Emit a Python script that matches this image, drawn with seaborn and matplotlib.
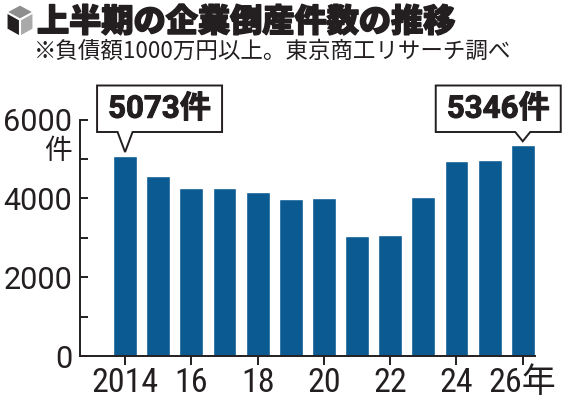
import os
import matplotlib
matplotlib.use("Agg")
import matplotlib.pyplot as plt
import matplotlib.patheffects as pe
import numpy as np
import pandas as pd
import seaborn as sns
from matplotlib.patches import Polygon
from matplotlib.transforms import IdentityTransform
from matplotlib import font_manager as fm

# ---------------- data ----------------
years = [2014, 2015, 2016, 2017, 2018, 2019, 2020, 2021, 2022, 2023, 2024, 2025, 2026]
counts = [5073, 4555, 4274, 4258, 4148, 3980, 3996, 3050, 3067, 4046, 4935, 4977, 5346]
tick_years = [2014, 2016, 2018, 2020, 2022, 2024, 2026]
tick_labels = ["2014", "16", "18", "20", "22", "24", "26年"]
y_ticks = [0, 2000, 4000, 6000]
y_minor_ticks = [1000, 3000, 5000]
highlight_years = [2014, 2026]
title = "上半期の企業倒産件数の推移"
subtitle = "※負債額1000万円以上。東京商工リサーチ調べ"
unit_label = "件"
callout_suffix = "件"

# ---------------- style ----------------
BAR = "#0b5a91"
INK = "#231f20"
W, H = 562, 400


def has_font(name):
    try:
        fm.findfont(fm.FontProperties(family=name), fallback_to_default=False)
        return True
    except Exception:
        return False


def pick_narrow():
    best = None
    for f in fm.fontManager.ttflist:
        fn = os.path.basename(f.fname).lower()
        if f.style != "normal":
            continue
        w = f.weight
        if isinstance(w, str):
            w = 400 if w in ("normal", "regular", "book") else 0
        if w != 400:
            continue
        rank = None
        if "liberationsansnarrow" in fn:
            rank = 0
        elif fn.startswith("notosans-condensed"):
            rank = 1
        elif "robotocondensed" in fn:
            rank = 2
        elif "opensans" in fn and "condensed" in fn and "semi" not in fn:
            rank = 3
        elif fn.startswith("notosans-semicondensed"):
            rank = 4
        elif "dejavusanscondensed" in fn:
            rank = 5
        if rank is not None and (best is None or rank < best[0]):
            best = (rank, f.name, f.stretch)
    if best is None:
        return ("Roboto" if has_font("Roboto") else "DejaVu Sans"), "normal"
    return best[1], best[2]


CJK = "Noto Sans CJK JP"
NARROW, NARROW_STRETCH = pick_narrow()
REG = "Roboto" if has_font("Roboto") else "DejaVu Sans"

sns.set_theme(style="ticks")
plt.rcParams["font.family"] = [REG, CJK, "DejaVu Sans"]

fig = plt.figure(figsize=(W / 100, H / 100), dpi=100)
fig.patch.set_facecolor("white")
renderer = fig.canvas.get_renderer()


def fit_size(s, target_w, max_pt, **kw):
    t = fig.text(0, 0, s, fontsize=10, **kw)
    w = t.get_window_extent(renderer).width
    t.remove()
    return min(max_pt, 10 * target_w / w)


ax = fig.add_axes([80 / W, 1 - 356 / H, (535 - 80) / W, (356 - 119.5) / H])
ax.set_facecolor("white")

df = pd.DataFrame({"year": years, "count": counts})
sns.barplot(data=df, x="year", y="count", native_scale=True, width=0.72,
            color=BAR, saturation=1, errorbar=None, ax=ax, zorder=2)

ax.set_xlim(2012.64, 2026.37)
ax.set_ylim(0, 6000)
ax.set_xlabel("")
ax.set_ylabel("")

ax.set_xticks(tick_years)
ax.set_xticklabels(tick_labels)
ax.set_yticks(y_ticks)
ax.set_yticklabels([str(v) for v in y_ticks])
ax.set_yticks(y_minor_ticks, minor=True)

x_size = fit_size(tick_labels[0], 68, 24.5, family=[NARROW, CJK], stretch=NARROW_STRETCH)
ax.tick_params(axis="x", which="major", direction="out", length=6.5, width=1.4,
               pad=1.5, labelsize=x_size, colors=INK)
ax.tick_params(axis="y", which="both", direction="in", length=6, width=1.4,
               pad=5.5, labelsize=22, colors=INK)
for lab in ax.get_xticklabels():
    lab.set_family([NARROW, CJK])
    lab.set_stretch(NARROW_STRETCH)
for lab in ax.get_yticklabels():
    lab.set_family([REG, CJK])

for s in ["top", "right"]:
    ax.spines[s].set_visible(False)
for s in ["left", "bottom"]:
    ax.spines[s].set_linewidth(1.4)
    ax.spines[s].set_color(INK)

# unit label under 6000
fig.text(72 / W, 1 - 151.5 / H, unit_label, ha="right", va="center",
         fontsize=20, color=INK, family=[CJK])

# ---------------- callouts ----------------
box_left_offset = {2014: -28, 2026: -87}
box_w, box_top, box_bottom = 125, H - 85.5, H - 132
for yr in highlight_years:
    val = counts[years.index(yr)]
    tx, ty = ax.transData.transform((yr, val))
    ty += 4
    bl = tx + box_left_offset[yr]
    br = bl + box_w
    verts = [(tx, ty), (tx - 7.5, box_bottom), (bl, box_bottom), (bl, box_top),
             (br, box_top), (br, box_bottom), (tx + 7.5, box_bottom)]
    poly = Polygon(verts, closed=True, facecolor="white", edgecolor=INK,
                   linewidth=1.4, joinstyle="miter", transform=IdentityTransform(),
                   zorder=5)
    fig.add_artist(poly)
    fig.text((bl + br) / 2, (box_top + box_bottom) / 2, f"{val}{callout_suffix}",
             transform=IdentityTransform(), ha="center", va="center",
             fontsize=22.5, fontweight="bold", color=INK, family=[REG, CJK], zorder=6,
             path_effects=[pe.withStroke(linewidth=0.7, foreground=INK)])

# ---------------- header ----------------
def px(x, y):
    return (x / W, 1 - y / H)

top_face = [px(20, 5), px(33, 12), px(20, 19), px(7, 12)]
left_face = [px(7, 13), px(19.5, 20), px(19.5, 36), px(7, 29)]
right_face = [px(20.5, 20), px(33, 13), px(33, 29), px(20.5, 36)]
for verts, col in [(top_face, "#8e8e8e"), (left_face, INK), (right_face, "#a9a9a9")]:
    fig.add_artist(Polygon(verts, closed=True, facecolor=col, edgecolor="white",
                           linewidth=0.8, transform=fig.transFigure))

title_size = fit_size(title, 418, 25, family=[CJK], fontweight="black")
fig.text(37 / W, 1 - 22 / H, title, ha="left", va="center", fontsize=title_size,
         fontweight="black", color=INK, family=[CJK],
         path_effects=[pe.withStroke(linewidth=1.1, foreground=INK)])
sub_size = fit_size(subtitle, 478, 17, family=[CJK, "DejaVu Sans"])
fig.text(34 / W, 1 - 51 / H, subtitle, ha="left", va="center", fontsize=sub_size,
         color=INK, family=[CJK, "DejaVu Sans"])

fig.savefig("out.png", dpi=100, facecolor="white")
